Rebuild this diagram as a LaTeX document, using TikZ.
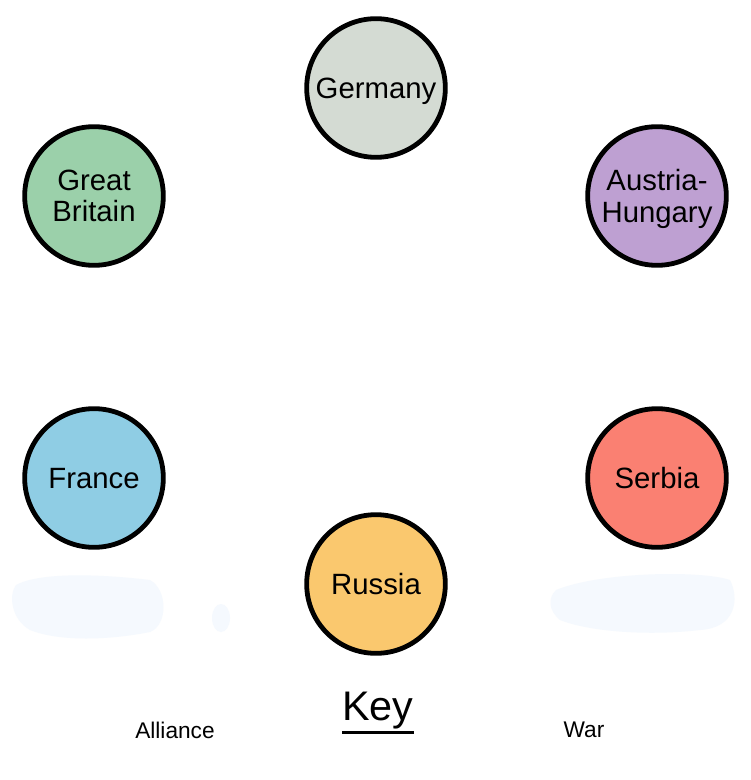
\documentclass[tikz,border=0pt]{standalone}
\usepackage{fontspec}
\setmainfont{Liberation Sans}
\definecolor{germanyc}{RGB}{212,219,211}
\definecolor{britainc}{RGB}{155,208,170}
\definecolor{austriac}{RGB}{190,160,210}
\definecolor{francec}{RGB}{143,205,228}
\definecolor{serbiac}{RGB}{250,128,114}
\definecolor{russiac}{RGB}{250,200,110}
\definecolor{smudge}{RGB}{245,249,254}
\begin{document}
\begin{tikzpicture}[x=0.75pt,y=-0.75pt,
  nation/.style={circle,draw=black,line width=3.6pt,minimum size=104pt,inner sep=0pt,
    align=center,text depth=0pt,font=\fontsize{22}{23.5}\selectfont}]
\useasboundingbox (0,0) rectangle (750,780);
\fill[white] (0,0) rectangle (750,780);
% faint smudges
\fill[smudge] (16,585) .. controls (40,572) and (100,574) .. (150,580)
  .. controls (168,590) and (168,625) .. (150,632) .. controls (110,640) and (60,642) .. (30,630)
  .. controls (12,620) and (8,596) .. (16,585) -- cycle;
\fill[smudge] (221,618) ellipse (9 and 14);
\fill[smudge] (556,590) .. controls (600,572) and (700,570) .. (730,580)
  .. controls (740,600) and (735,628) .. (700,630) .. controls (650,636) and (590,632) .. (560,620)
  .. controls (548,610) and (548,598) .. (556,590) -- cycle;
\node[nation,fill=germanyc] (germany) at (376,88) {Germany};
\node[nation,fill=britainc] (britain) at (94,196) {Great\\Britain};
\node[nation,fill=austriac] (austria) at (657,196) {Austria-\\Hungary};
\node[nation,fill=francec] (france) at (94,478) {France};
\node[nation,fill=serbiac] (serbia) at (657,478) {Serbia};
\node[nation,fill=russiac] (russia) at (376,584) {Russia};
\node[font=\fontsize{31}{34}\selectfont,inner sep=0pt] (key) at (378,711) {Key};
\draw[line width=2.2pt] ([yshift=-2pt]key.south west) -- ([yshift=-2pt]key.south east);
\node[font=\fontsize{17}{20}\selectfont,inner sep=0pt] (alliance) at (175,730) {Alliance};
\node[font=\fontsize{17}{20}\selectfont,inner sep=0pt] (war) at (584,730) {War};
\end{tikzpicture}
\end{document}
